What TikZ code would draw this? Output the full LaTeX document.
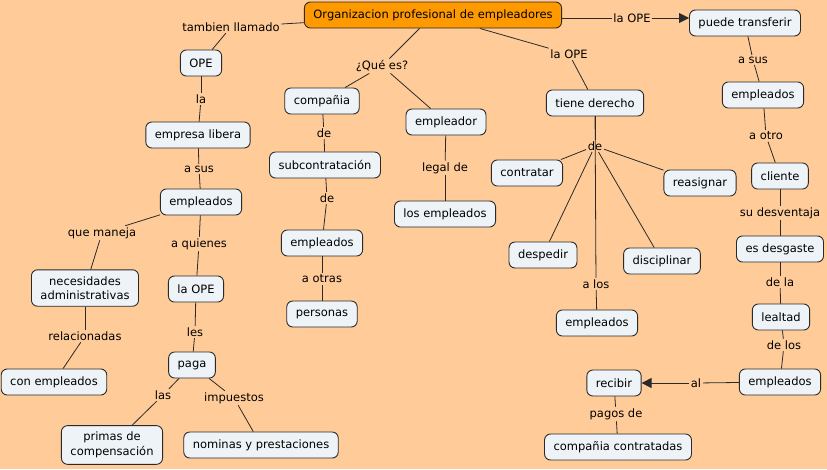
\documentclass[tikz,border=0pt]{standalone}
\usepackage{fontspec}
\setmainfont{DejaVu Sans}
\usetikzlibrary{arrows.meta}
\definecolor{bg}{HTML}{FFCC99}
\definecolor{cfill}{HTML}{EEF3F7}
\definecolor{orgfill}{HTML}{FF9900}
\definecolor{edgec}{HTML}{2A2A2A}
\begin{document}
\begin{tikzpicture}[x=1pt,y=-1pt,
 concept/.style={draw=edgec, fill=cfill, rounded corners=6pt, line width=0.9pt, inner xsep=9pt, inner ysep=6.5pt, minimum height=26pt, align=center, font=\fontsize{11.5}{14.5}\selectfont, text=black},
 lnk/.style={inner sep=1.5pt, font=\fontsize{11.5}{14.5}\selectfont, text=black},
 conn/.style={draw=edgec, line width=0.8pt},
 arr/.style={conn, -{Triangle[length=10pt,width=10pt]}}
]
\fill[bg] (0,0) rectangle (827,469);
\useasboundingbox (0,0) rectangle (827,469);

% concepts
\node[concept, fill=orgfill] (org) at (433,15) {Organizacion profesional de empleadores};
\node[concept] (ope) at (201,63) {OPE};
\node[concept] (emplib) at (198,135) {empresa libera};
\node[concept] (emp1) at (201,202) {empleados};
\node[concept] (nec) at (85,288) {necesidades\\administrativas};
\node[concept] (lope) at (196,289) {la OPE};
\node[concept] (conemp) at (54,382) {con empleados};
\node[concept] (paga) at (192,365) {paga};
\node[concept] (primas) at (112,445) {primas de\\compensación};
\node[concept] (nom) at (261,445) {nominas y prestaciones};
\node[concept] (comp) at (322,101) {compañia};
\node[concept] (sub) at (325,165) {subcontratación};
\node[concept] (emp2) at (322,243) {empleados};
\node[concept] (pers) at (322,314) {personas};
\node[concept] (emplr) at (446,122) {empleador};
\node[concept] (losemp) at (445,214) {los empleados};
\node[concept] (tiene) at (595,103) {tiene derecho};
\node[concept] (contr) at (527,173) {contratar};
\node[concept] (reas) at (700,183) {reasignar};
\node[concept] (desp) at (543,255) {despedir};
\node[concept] (disc) at (662,261) {disciplinar};
\node[concept] (emp3) at (597,323) {empleados};
\node[concept] (pt) at (745,23) {puede transferir};
\node[concept] (emp4) at (763,95) {empleados};
\node[concept] (cli) at (780,176) {cliente};
\node[concept] (desg) at (780,249) {es desgaste};
\node[concept] (leal) at (781,317) {lealtad};
\node[concept] (emp5) at (780,382) {empleados};
\node[concept] (rec) at (614,383) {recibir};
\node[concept] (compc) at (618,447) {compañia contratadas};

% linking phrases
\node[lnk] (l1) at (231,27) {tambien llamado};
\node[lnk] (l2) at (382,66) {¿Qué es?};
\node[lnk] (l3) at (569,54) {la OPE};
\node[lnk] (l4) at (632,18) {la OPE};
\node[lnk] (l5) at (201,99) {la};
\node[lnk] (l6) at (199,169) {a sus};
\node[lnk] (l7) at (102,233) {que maneja};
\node[lnk] (l8) at (199,244) {a quienes};
\node[lnk] (l9) at (85,336) {relacionadas};
\node[lnk] (l10) at (195,332) {les};
\node[lnk] (l11) at (163,395) {las};
\node[lnk] (l12) at (234,398) {impuestos};
\node[lnk] (l13) at (324,133) {de};
\node[lnk] (l14) at (327,198) {de};
\node[lnk] (l15) at (322,279) {a otras};
\node[lnk] (l16) at (445,168) {legal de};
\node[lnk] (l17) at (595,146) {de};
\node[lnk] (l18) at (596,284) {a los};
\node[lnk] (l19) at (753,60) {a sus};
\node[lnk] (l20) at (766,136) {a otro};
\node[lnk] (l21) at (780,213) {su desventaja};
\node[lnk] (l22) at (780,282) {de la};
\node[lnk] (l23) at (784,345) {de los};
\node[lnk] (l24) at (696,383) {al};
\node[lnk] (l25) at (616,414) {pagos de};

% connectors
\draw[conn] (org) -- (l1); \draw[conn] (l1) -- (ope);
\draw[conn] (org) -- (l2); \draw[conn] (l2) -- (comp); \draw[conn] (l2) -- (emplr);
\draw[conn] (org) -- (l3); \draw[conn] (l3) -- (tiene);
\draw[conn] (org.east |- l4) -- (l4); \draw[arr] (l4) -- (l4 -| pt.west);
\draw[conn] (ope) -- (l5); \draw[conn] (l5) -- (emplib);
\draw[conn] (emplib) -- (l6); \draw[conn] (l6) -- (emp1);
\draw[conn] (emp1) -- (l7); \draw[conn] (l7) -- (nec);
\draw[conn] (emp1) -- (l8); \draw[conn] (l8) -- (lope);
\draw[conn] (nec) -- (l9); \draw[conn] (l9) -- (conemp);
\draw[conn] (lope) -- (l10); \draw[conn] (l10) -- (paga);
\draw[conn] (paga) -- (l11); \draw[conn] (l11) -- (primas);
\draw[conn] (paga) -- (l12); \draw[conn] (l12) -- (nom);
\draw[conn] (comp) -- (l13); \draw[conn] (l13) -- (sub);
\draw[conn] (sub) -- (l14); \draw[conn] (l14) -- (emp2);
\draw[conn] (emp2) -- (l15); \draw[conn] (l15) -- (pers);
\draw[conn] (emplr) -- (l16); \draw[conn] (l16) -- (losemp);
\draw[conn] (tiene) -- (l17);
\draw[conn] (l17) -- (contr); \draw[conn] (l17) -- (reas);
\draw[conn] (l17) -- (desp); \draw[conn] (l17) -- (disc);
\draw[conn] (tiene) -- (l18); \draw[conn] (l18) -- (emp3);
\draw[conn] (pt) -- (l19); \draw[conn] (l19) -- (emp4);
\draw[conn] (emp4) -- (l20); \draw[conn] (l20) -- (cli);
\draw[conn] (cli) -- (l21); \draw[conn] (l21) -- (desg);
\draw[conn] (desg) -- (l22); \draw[conn] (l22) -- (leal);
\draw[conn] (leal) -- (l23); \draw[conn] (l23) -- (emp5);
\draw[conn] (emp5) -- (l24); \draw[arr] (l24) -- (l24 -| rec.east);
\draw[conn] (rec) -- (l25); \draw[conn] (l25) -- (compc);
\end{tikzpicture}
\end{document}
